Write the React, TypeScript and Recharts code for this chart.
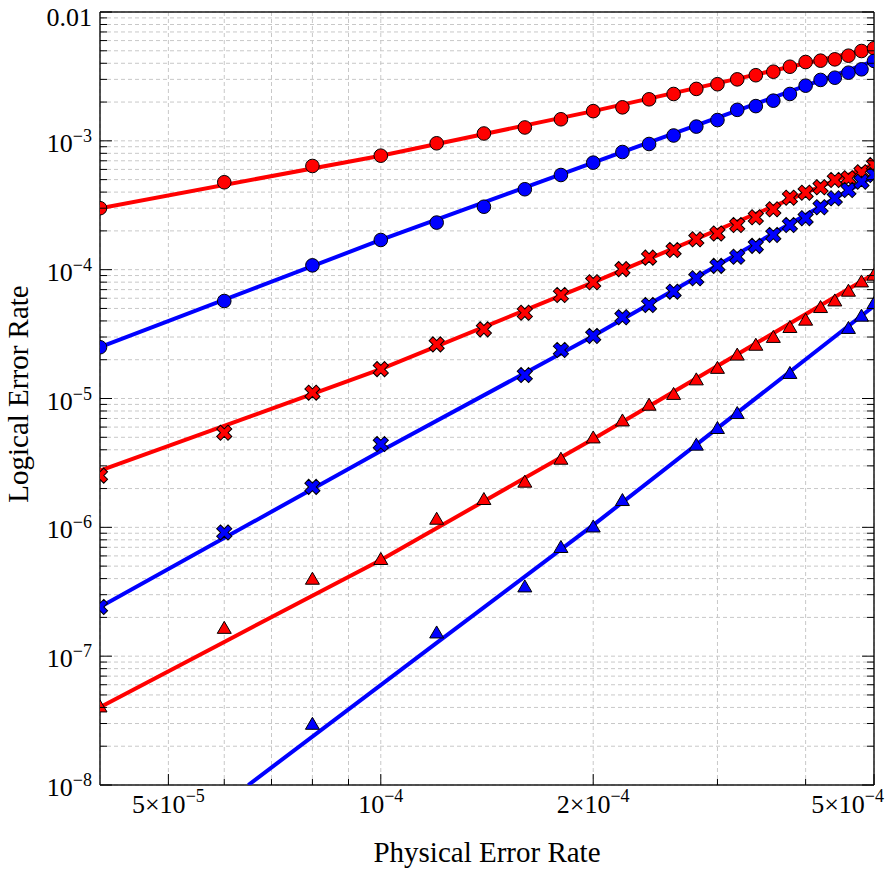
import React from 'react';
import { ComposedChart, Scatter, XAxis, YAxis, CartesianGrid } from 'recharts';

// ---------- data ----------
const xVals = [4e-5, 6e-5, 8e-5, 1e-4, 1.2e-4, 1.4e-4, 1.6e-4, 1.8e-4, 2e-4, 2.2e-4, 2.4e-4, 2.6e-4, 2.8e-4, 3e-4, 3.2e-4, 3.4e-4, 3.6e-4, 3.8e-4, 4e-4, 4.2e-4, 4.4e-4, 4.6e-4, 4.8e-4, 5e-4];

const redCircleY = [3.0e-4, 4.77e-4, 6.38e-4, 7.67e-4, 9.57e-4, 1.14e-3, 1.27e-3, 1.47e-3, 1.70e-3, 1.82e-3, 2.10e-3, 2.31e-3, 2.53e-3, 2.75e-3, 3.0e-3, 3.23e-3, 3.44e-3, 3.76e-3, 4.09e-3, 4.19e-3, 4.29e-3, 4.58e-3, 4.98e-3, 5.23e-3];
const blueCircleY = [2.5e-5, 5.71e-5, 1.08e-4, 1.70e-4, 2.32e-4, 3.08e-4, 4.21e-4, 5.43e-4, 6.77e-4, 8.19e-4, 9.45e-4, 1.10e-3, 1.29e-3, 1.45e-3, 1.74e-3, 1.86e-3, 2.05e-3, 2.31e-3, 2.68e-3, 2.97e-3, 3.09e-3, 3.38e-3, 3.59e-3, 4.17e-3];
const redCrossY = [2.52e-6, 5.43e-6, 1.11e-5, 1.69e-5, 2.63e-5, 3.44e-5, 4.63e-5, 6.36e-5, 7.98e-5, 1.01e-4, 1.24e-4, 1.42e-4, 1.72e-4, 1.91e-4, 2.22e-4, 2.55e-4, 2.94e-4, 3.62e-4, 3.96e-4, 4.36e-4, 4.97e-4, 5.12e-4, 5.70e-4, 6.49e-4];
const blueCrossX = [4e-5, 6e-5, 8e-5, 1e-4, 1.6e-4, 1.8e-4, 2e-4, 2.2e-4, 2.4e-4, 2.6e-4, 2.8e-4, 3e-4, 3.2e-4, 3.4e-4, 3.6e-4, 3.8e-4, 4e-4, 4.2e-4, 4.4e-4, 4.6e-4, 4.8e-4, 5e-4];
const blueCrossY = [2.41e-7, 9.12e-7, 2.06e-6, 4.43e-6, 1.52e-5, 2.38e-5, 3.06e-5, 4.27e-5, 5.32e-5, 6.75e-5, 8.57e-5, 1.07e-4, 1.26e-4, 1.53e-4, 1.86e-4, 2.22e-4, 2.51e-4, 3.05e-4, 3.58e-4, 4.15e-4, 4.82e-4, 5.43e-4];
const redTriY = [4.05e-8, 1.65e-7, 3.97e-7, 5.65e-7, 1.16e-6, 1.65e-6, 2.25e-6, 3.39e-6, 4.96e-6, 6.72e-6, 8.90e-6, 1.08e-5, 1.40e-5, 1.72e-5, 2.18e-5, 2.60e-5, 2.99e-5, 3.57e-5, 4.07e-5, 5.10e-5, 5.74e-5, 6.83e-5, 8.06e-5, 9.09e-5];
const blueTriX = [8e-5, 1.2e-4, 1.6e-4, 1.8e-4, 2e-4, 2.2e-4, 2.8e-4, 3e-4, 3.2e-4, 3.8e-4, 4.6e-4, 4.8e-4, 5e-4];
const blueTriY = [2.97e-8, 1.52e-7, 3.46e-7, 7.0e-7, 1.01e-6, 1.62e-6, 4.36e-6, 5.87e-6, 7.67e-6, 1.57e-5, 3.51e-5, 4.37e-5, 5.48e-5];

// fitted curves
const fitX = [4e-5, 1e-4, 2e-4, 5e-4];
const redCircleFitY = [3.0e-4, 7.67e-4, 1.70e-3, 5.26e-3];
const blueCircleFitY = [2.5e-5, 1.70e-4, 6.77e-4, 4.17e-3];
const redCrossFitY = [2.75e-6, 1.69e-5, 7.98e-5, 6.61e-4];
const blueCrossFitY = [2.41e-7, 3.91e-6, 3.05e-5, 5.33e-4];
const redTriFitX = [4e-5, 6e-5, 1e-4, 2e-4, 5e-4];
const redTriFitY = [4.01e-8, 1.29e-7, 5.58e-7, 4.85e-6, 9.25e-5];
const blueTriFitX = [6.49e-5, 1.2e-4, 2e-4, 5e-4];
const blueTriFitY = [1e-8, 1.27e-7, 1.04e-6, 5.22e-5];

// ticks
const xTicks = [5e-5, 6e-5, 7e-5, 8e-5, 9e-5, 1e-4, 2e-4, 3e-4, 4e-4, 5e-4];
const xTickBase = ['5×10', '', '', '', '', '10', '2×10', '', '', '5×10'];
const xTickExp = ['−5', '', '', '', '', '−4', '−4', '', '', '−4'];
const yMajorTicks = [1e-8, 1e-7, 1e-6, 1e-5, 1e-4, 1e-3, 1e-2];
const yTickBase = ['10', '10', '10', '10', '10', '10', '0.01'];
const yTickExp = ['−8', '−7', '−6', '−5', '−4', '−3', ''];
const minorMult = [2, 3, 4, 5, 6, 7, 8, 9];

const yTicks: number[] = [];
yMajorTicks.forEach((m, i) => {
  yTicks.push(m);
  if (i < yMajorTicks.length - 1) minorMult.forEach((k) => yTicks.push(m * k));
});

const toPts = (xs: number[], ys: number[]) => xs.map((x, i) => ({ x, y: ys[i] }));

const RED = '#ff0000';
const BLUE = '#0000ff';
const FONT = '"Liberation Serif", "Times New Roman", serif';
const TICK_FS = 26;
const SUP_FS = 18;

const findIdx = (arr: number[], v: number) => arr.findIndex((t) => Math.abs(t - v) / t < 1e-6);

// ---------- shapes ----------
const circleShape = (color: string) => (p: any) => (
  <circle cx={p.cx} cy={p.cy} r={6.8} fill={color} stroke="#000" strokeWidth={1} />
);
const crossShape = (color: string) => (p: any) => {
  const w = 2.7;
  const L = 8.0;
  const pts = [
    [-w, -L], [w, -L], [w, -w], [L, -w], [L, w], [w, w], [w, L], [-w, L], [-w, w], [-L, w], [-L, -w], [-w, -w],
  ].map((q) => q.join(',')).join(' ');
  return (
    <polygon points={pts} transform={`translate(${p.cx},${p.cy}) rotate(45)`} fill={color} stroke="#000" strokeWidth={1} strokeLinejoin="miter" />
  );
};
const triShape = (color: string) => (p: any) => (
  <polygon
    points={`${p.cx},${p.cy - 6.8} ${p.cx + 7},${p.cy + 5.2} ${p.cx - 7},${p.cy + 5.2}`}
    fill={color}
    stroke="#000"
    strokeWidth={1}
  />
);
const noShape = () => <g />;

// ---------- ticks ----------
const BottomTick = (p: any) => {
  const { x, y, payload } = p;
  const i = findIdx(xTicks, payload.value);
  const major = i >= 0 && xTickBase[i] !== '';
  const len = major ? 11 : 6;
  const isLast = i === xTicks.length - 1;
  return (
    <g>
      <line x1={x} x2={x} y1={y} y2={y - len} stroke="#000" strokeWidth={1} />
      {major && (
        <text
          x={isLast ? x + 10 : x}
          y={y + 28}
          textAnchor={isLast ? 'end' : 'middle'}
          fontFamily={FONT}
          fontSize={TICK_FS}
          fill="#000"
        >
          <tspan>{xTickBase[i]}</tspan>
          <tspan dy={-11} fontSize={SUP_FS}>{xTickExp[i]}</tspan>
        </text>
      )}
    </g>
  );
};
const TopTick = (p: any) => {
  const { x, y, payload } = p;
  const i = findIdx(xTicks, payload.value);
  const major = i >= 0 && xTickBase[i] !== '';
  const len = major ? 11 : 6;
  return <line x1={x} x2={x} y1={y} y2={y + len} stroke="#000" strokeWidth={1} />;
};
const LeftTick = (p: any) => {
  const { x, y, payload } = p;
  const i = findIdx(yMajorTicks, payload.value);
  const major = i >= 0;
  const len = major ? 12 : 7;
  const isTop = i === yMajorTicks.length - 1;
  return (
    <g>
      <line x1={x} x2={x + len} y1={y} y2={y} stroke="#000" strokeWidth={1} />
      {major && (
        <text x={x - 8} y={y + (isTop ? 14 : 11)} textAnchor="end" fontFamily={FONT} fontSize={TICK_FS} fill="#000">
          <tspan>{yTickBase[i]}</tspan>
          {yTickExp[i] !== '' && (
            <tspan dy={-10} fontSize={SUP_FS}>{yTickExp[i]}</tspan>
          )}
        </text>
      )}
    </g>
  );
};
const RightTick = (p: any) => {
  const { x, y, payload } = p;
  const i = findIdx(yMajorTicks, payload.value);
  const len = i >= 0 ? 12 : 7;
  return <line x1={x} x2={x - len} y1={y} y2={y} stroke="#000" strokeWidth={1} />;
};

const axisLine = { stroke: '#1a1a1a', strokeWidth: 1.5 };

export default function App() {
  const lineSeries = [
    { pts: toPts(fitX, redCircleFitY), c: RED },
    { pts: toPts(fitX, blueCircleFitY), c: BLUE },
    { pts: toPts(fitX, redCrossFitY), c: RED },
    { pts: toPts(fitX, blueCrossFitY), c: BLUE },
    { pts: toPts(redTriFitX, redTriFitY), c: RED },
    { pts: toPts(blueTriFitX, blueTriFitY), c: BLUE },
  ];
  const markerSeries = [
    { pts: toPts(xVals, redCircleY), shape: circleShape(RED), c: RED },
    { pts: toPts(xVals, blueCircleY), shape: circleShape(BLUE), c: BLUE },
    { pts: toPts(xVals, redCrossY), shape: crossShape(RED), c: RED },
    { pts: toPts(blueCrossX, blueCrossY), shape: crossShape(BLUE), c: BLUE },
    { pts: toPts(xVals, redTriY), shape: triShape(RED), c: RED },
    { pts: toPts(blueTriX, blueTriY), shape: triShape(BLUE), c: BLUE },
  ];
  return (
    <div style={{ position: 'absolute', left: 0, top: 0, width: 886, height: 886, background: '#fff' }}>
      <ComposedChart width={886} height={886} margin={{ top: 0, right: 0, bottom: 0, left: 0 }}>
        <CartesianGrid stroke="#c8c8c8" strokeDasharray="4 3" strokeWidth={1} />
        <XAxis
          dataKey="x"
          type="number"
          scale="log"
          domain={[4e-5, 5e-4]}
          allowDataOverflow
          ticks={xTicks}
          interval={0}
          height={101}
          tickSize={0}
          tickMargin={0}
          tickLine={false}
          axisLine={axisLine}
          tick={<BottomTick />}
        />
        <XAxis
          xAxisId="top"
          orientation="top"
          type="number"
          scale="log"
          domain={[4e-5, 5e-4]}
          allowDataOverflow
          ticks={xTicks}
          interval={0}
          height={12}
          tickSize={0}
          tickMargin={0}
          tickLine={false}
          axisLine={axisLine}
          tick={<TopTick />}
        />
        <YAxis
          dataKey="y"
          type="number"
          scale="log"
          domain={[1e-8, 1e-2]}
          allowDataOverflow
          ticks={yTicks}
          interval={0}
          width={100}
          tickSize={0}
          tickMargin={0}
          tickLine={false}
          axisLine={axisLine}
          tick={<LeftTick />}
        />
        <YAxis
          yAxisId="right"
          orientation="right"
          type="number"
          scale="log"
          domain={[1e-8, 1e-2]}
          allowDataOverflow
          ticks={yTicks}
          interval={0}
          width={12}
          tickSize={0}
          tickMargin={0}
          tickLine={false}
          axisLine={axisLine}
          tick={<RightTick />}
        />
        {lineSeries.map((s, i) => (
          <Scatter
            key={'l' + i}
            data={s.pts}
            fill={s.c}
            line={{ stroke: s.c, strokeWidth: 4 }}
            lineType="joint"
            shape={noShape}
            isAnimationActive={false}
            legendType="none"
          />
        ))}
        {markerSeries.map((s, i) => (
          <Scatter
            key={'m' + i}
            data={s.pts}
            fill={s.c}
            shape={s.shape}
            isAnimationActive={false}
            legendType="none"
          />
        ))}
        <text x={28} y={394} transform="rotate(-90 28 394)" textAnchor="middle" fontFamily={FONT} fontSize={29} fill="#000">
          Logical Error Rate
        </text>
        <text x={487} y={862} textAnchor="middle" fontFamily={FONT} fontSize={29} fill="#000">
          Physical Error Rate
        </text>
      </ComposedChart>
    </div>
  );
}
